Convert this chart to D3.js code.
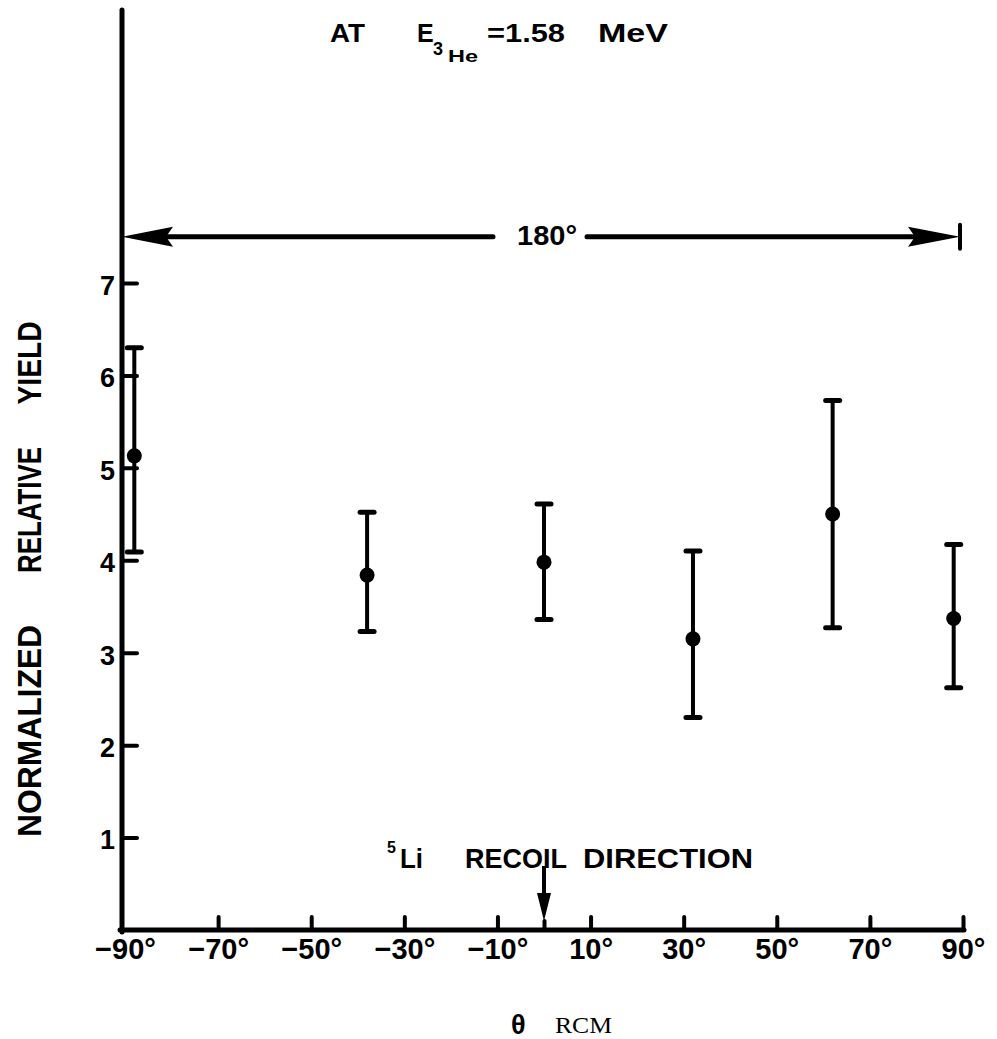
<!DOCTYPE html>
<html>
<head>
<meta charset="utf-8">
<script src="https://cdn.jsdelivr.net/npm/d3@7"></script>
<style>
    body { margin: 0; background: #fff; }
    svg { display: block; }
</style>
</head>
<body>
<svg id="chart" width="997" height="1039"></svg>
<script>
// measured points (theta in degrees, normalized relative yield with error limits)
const angles = [-88, -38, 0, 32, 62, 88];
const yields = [5.13, 3.84, 3.98, 3.15, 4.50, 3.37];
const upper  = [6.30, 4.52, 4.61, 4.10, 5.73, 4.17];
const lower  = [4.09, 3.23, 3.36, 2.30, 3.27, 2.62];

const xTicks = [-90, -70, -50, -30, -10, 0, 10, 30, 50, 70, 90];
const yTicks = [1, 2, 3, 4, 5, 6, 7];
const spanLevel = 7.5;   // height of the 180° double arrow
const recoilAngle = 0;

(function () {
    const svg = d3.select("#chart");
    const margin = { top: 283, right: 34, bottom: 109, left: 125 };
    const W = 997 - margin.left - margin.right;
    const H = 1039 - margin.top - margin.bottom;
    const bold = "'Liberation Sans', Arial, sans-serif";

    const x = d3.scaleLinear().domain([-90, 90]).range([0, W]);
    const y = d3.scaleLinear().domain([0, 7]).range([H, 0]);

    const g = svg.append("g")
        .attr("transform", `translate(${margin.left},${margin.top})`);

    // x axis, ticks pointing up into the plot
    const xa = g.append("g")
        .attr("transform", `translate(0,${H})`)
        .call(d3.axisBottom(x)
            .tickValues(xTicks)
            .tickSizeInner(-13).tickSizeOuter(0).tickPadding(8)
            .tickFormat(d => d === 0 ? "" : d3.format("d")(d) + "°"));
    xa.select(".domain").remove();
    xa.selectAll(".tick line")
        .attr("stroke", "#000").attr("stroke-width", 4).attr("stroke-linecap", "round")
        .attr("y2", d => d === 0 ? -9 : d === -90 ? 0 : -13);
    xa.selectAll(".tick text")
        .attr("fill", "#000")
        .style("font-family", bold).style("font-weight", "bold").style("font-size", "29px");

    // y axis, ticks pointing right
    const ya = g.append("g")
        .attr("transform", "translate(-3,0)")
        .call(d3.axisLeft(y)
            .tickValues(yTicks)
            .tickSizeInner(-15).tickSizeOuter(0).tickPadding(7)
            .tickFormat(d3.format("d")));
    ya.select(".domain").remove();
    ya.selectAll(".tick line")
        .attr("stroke", "#000").attr("stroke-width", 4).attr("stroke-linecap", "round");
    ya.selectAll(".tick text")
        .attr("fill", "#000").attr("dy", "0.42em")
        .style("font-family", bold).style("font-weight", "bold").style("font-size", "27px");

    // axis lines (the vertical one runs up to the top of the figure)
    g.append("line")
        .attr("x1", -3).attr("x2", -3)
        .attr("y1", H + 2).attr("y2", 10 - margin.top)
        .attr("stroke", "#000").attr("stroke-width", 5).attr("stroke-linecap", "round");
    g.append("line")
        .attr("x1", -5).attr("x2", x(90) + 1)
        .attr("y1", H).attr("y2", H)
        .attr("stroke", "#000").attr("stroke-width", 5).attr("stroke-linecap", "round");

    // error bars
    const pts = angles.map((a, i) => ({ a, v: yields[i], hi: upper[i], lo: lower[i] }));
    const bars = g.append("g");
    bars.selectAll(".bar").data(pts).join("line")
        .attr("x1", d => x(d.a)).attr("x2", d => x(d.a))
        .attr("y1", d => y(d.lo)).attr("y2", d => y(d.hi))
        .attr("stroke", "#000").attr("stroke-width", 4);
    ["hi", "lo"].forEach(k => {
        bars.selectAll(".cap-" + k).data(pts).join("line")
            .attr("x1", d => x(d.a) - 7).attr("x2", d => x(d.a) + 7)
            .attr("y1", d => y(d[k])).attr("y2", d => y(d[k]))
            .attr("stroke", "#000").attr("stroke-width", 5).attr("stroke-linecap", "round");
    });
    bars.selectAll("circle").data(pts).join("circle")
        .attr("cx", d => x(d.a)).attr("cy", d => y(d.v)).attr("r", 7.5)
        .attr("fill", "#000");

    // 180° double arrow
    const ay = y(spanLevel);
    const xl = x(-90) - 3, xr = x(90) - 3;
    g.append("line").attr("x1", xl + 20).attr("x2", 493 - margin.left)
        .attr("y1", ay).attr("y2", ay)
        .attr("stroke", "#000").attr("stroke-width", 5).attr("stroke-linecap", "round");
    g.append("line").attr("x1", 587 - margin.left).attr("x2", xr - 20)
        .attr("y1", ay).attr("y2", ay)
        .attr("stroke", "#000").attr("stroke-width", 5).attr("stroke-linecap", "round");
    g.append("path")
        .attr("d", `M${xl},${ay} L${xl + 51},${ay - 10} L${xl + 44},${ay} L${xl + 51},${ay + 10} Z`)
        .attr("fill", "#000");
    g.append("path")
        .attr("d", `M${xr},${ay} L${xr - 52},${ay - 10} L${xr - 45},${ay} L${xr - 52},${ay + 10} Z`)
        .attr("fill", "#000");
    g.append("line").attr("x1", xr).attr("x2", xr)
        .attr("y1", ay - 12).attr("y2", ay + 12)
        .attr("stroke", "#000").attr("stroke-width", 4).attr("stroke-linecap", "round");
    g.append("text")
        .attr("x", 517 - margin.left).attr("y", ay + 8)
        .attr("textLength", 60).attr("lengthAdjust", "spacingAndGlyphs")
        .style("font-family", bold).style("font-weight", "bold").style("font-size", "28px")
        .text("180°");

    // recoil direction arrow
    const rx = x(recoilAngle);
    g.append("line").attr("x1", rx).attr("x2", rx)
        .attr("y1", 866 - margin.top).attr("y2", 900 - margin.top)
        .attr("stroke", "#000").attr("stroke-width", 4);
    g.append("path")
        .attr("d", `M${rx - 7},${893 - margin.top} L${rx + 7},${893 - margin.top} L${rx},${921 - margin.top} Z`)
        .attr("fill", "#000");

    // title
    const title = svg.append("text")
        .style("font-family", bold).style("font-weight", "bold").style("font-size", "25px");
    title.append("tspan").attr("x", 330).attr("y", 42)
        .attr("textLength", 35).attr("lengthAdjust", "spacingAndGlyphs").text("AT");
    title.append("tspan").attr("x", 417).attr("y", 42).text("E");
    title.append("tspan").attr("x", 433).attr("y", 55).style("font-size", "18px").text("3");
    title.append("tspan").attr("x", 448).attr("y", 62).style("font-size", "17px")
        .attr("textLength", 30).attr("lengthAdjust", "spacingAndGlyphs").text("He");
    title.append("tspan").attr("x", 487).attr("y", 42)
        .attr("textLength", 78).attr("lengthAdjust", "spacingAndGlyphs").text("=1.58");
    title.append("tspan").attr("x", 598).attr("y", 42)
        .attr("textLength", 70).attr("lengthAdjust", "spacingAndGlyphs").text("MeV");

    // y axis title, words spread along the axis
    [["YIELD", 363, 83], ["RELATIVE", 510, 126], ["NORMALIZED", 731, 212]].forEach(([w, cy, len]) => {
        svg.append("text")
            .attr("transform", `translate(41,${cy}) rotate(-90)`)
            .attr("text-anchor", "middle")
            .attr("textLength", len).attr("lengthAdjust", "spacingAndGlyphs")
            .style("font-family", bold).style("font-weight", "bold").style("font-size", "34px")
            .text(w);
    });

    // recoil label
    const rl = svg.append("text")
        .style("font-family", bold).style("font-weight", "bold").style("font-size", "28px");
    rl.append("tspan").attr("x", 387).attr("y", 853).style("font-size", "16px").text("5");
    rl.append("tspan").attr("x", 400).attr("y", 868)
        .attr("textLength", 23).attr("lengthAdjust", "spacingAndGlyphs").text("Li");
    rl.append("tspan").attr("x", 465).attr("y", 868)
        .attr("textLength", 102).attr("lengthAdjust", "spacingAndGlyphs").text("RECOIL");
    rl.append("tspan").attr("x", 583).attr("y", 868)
        .attr("textLength", 170).attr("lengthAdjust", "spacingAndGlyphs").text("DIRECTION");

    // x axis title
    svg.append("text")
        .attr("x", 511).attr("y", 1034)
        .style("font-family", bold).style("font-weight", "bold").style("font-size", "27px")
        .text("θ");
    svg.append("text")
        .attr("x", 555).attr("y", 1033)
        .attr("textLength", 57).attr("lengthAdjust", "spacingAndGlyphs")
        .style("font-family", "'Liberation Serif', 'DejaVu Serif', serif").style("font-size", "24px")
        .text("RCM");
})();
</script>
</body>
</html>
